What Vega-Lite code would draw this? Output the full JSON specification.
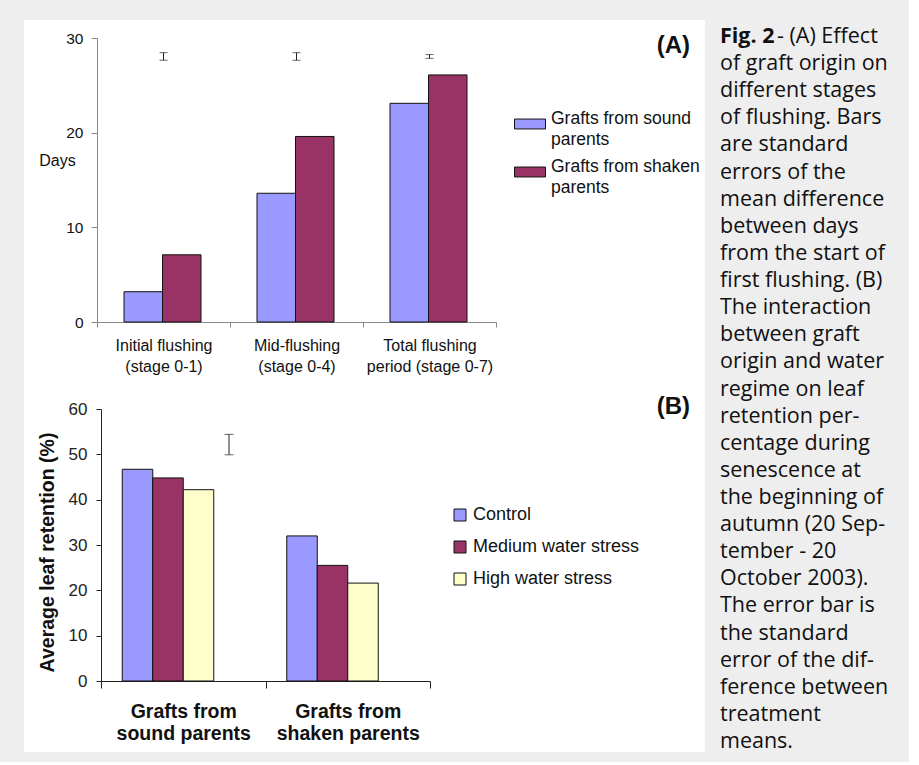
{
  "$schema": "https://vega.github.io/schema/vega-lite/v6.json",
  "background": "#eeeeee",
  "padding": {"left": 24, "top": 20, "right": 0, "bottom": 9},
  "spacing": 0,
  "config": {
    "view": {"stroke": null},
    "font": "Liberation Sans",
    "concat": {"spacing": 0},
    "style": {"guide-label": {"lineHeight": 21}}
  },
  "hconcat": [
    {
      "spacing": 0,
      "resolve": {"scale": {"color": "independent", "xOffset": "independent"}, "legend": {"color": "independent"}},
      "vconcat": [
        {
          "width": 681,
          "height": 368,
          "view": {"fill": "white", "stroke": null},
          "title": {"text": "(A)", "anchor": "end", "frame": "group", "offset": -50, "baseline": "middle", "dx": -15, "fontSize": 24, "fontWeight": "bold", "color": "#111111"},
          "layer": [
            {
              "data": {"values": [
                {"stage": "Initial flushing (stage 0-1)", "origin": "Grafts from sound parents", "days": 3.2},
                {"stage": "Initial flushing (stage 0-1)", "origin": "Grafts from shaken parents", "days": 7.1},
                {"stage": "Mid-flushing (stage 0-4)", "origin": "Grafts from sound parents", "days": 13.6},
                {"stage": "Mid-flushing (stage 0-4)", "origin": "Grafts from shaken parents", "days": 19.6},
                {"stage": "Total flushing period (stage 0-7)", "origin": "Grafts from sound parents", "days": 23.1},
                {"stage": "Total flushing period (stage 0-7)", "origin": "Grafts from shaken parents", "days": 26.1}
              ]},
              "mark": {"type": "bar", "stroke": "#111111", "strokeWidth": 1},
              "encoding": {
                "x": {
                  "field": "stage", "type": "nominal", "sort": null,
                  "scale": {"range": [73, 472], "paddingInner": 0, "paddingOuter": 0},
                  "axis": {
                    "title": null, "orient": "bottom", "offset": -66, "tickBand": "extent", "tickSize": 5,
                    "labelAngle": 0, "labelFontSize": 16, "labelPadding": 10, "labelLineHeight": 21,
                    "labelColor": "#111111", "domainColor": "#888888", "tickColor": "#888888",
                    "labelExpr": "!datum.label ? '' : datum.label == 'Total flushing period (stage 0-7)' ? ['Total flushing', 'period (stage 0-7)'] : split(replace(datum.label, ' (', '|('), '|')"
                  }
                },
                "xOffset": {
                  "field": "origin", "type": "nominal",
                  "scale": {"domain": ["Grafts from sound parents", "Grafts from shaken parents"], "range": [27, 104], "paddingOuter": 0, "paddingInner": 0}
                },
                "y": {
                  "field": "days", "type": "quantitative",
                  "scale": {"domain": [0, 30], "range": [302, 18], "nice": false, "zero": true},
                  "axis": {
                    "title": "Days", "titleAngle": 0, "titleX": -40, "titleY": 140, "titleAlign": "center", "titleBaseline": "middle",
                    "titleFontSize": 16, "titleFontWeight": "normal", "titleColor": "#111111",
                    "offset": -73, "values": [0, 10, 20, 30], "grid": false, "tickSize": 6, "labelPadding": 8,
                    "labelFontSize": 15.5, "labelColor": "#111111", "domainColor": "#888888", "tickColor": "#888888"
                  }
                },
                "color": {
                  "field": "origin", "type": "nominal",
                  "scale": {"domain": ["Grafts from sound parents", "Grafts from shaken parents"], "range": ["#9999FF", "#993366"]},
                  "legend": {
                    "orient": "none", "legendX": 490, "legendY": 88, "direction": "vertical", "title": null,
                    "symbolType": "M-1,-0.32H1V0.32H-1Z", "symbolSize": 961, "symbolStrokeColor": "#111111", "symbolStrokeWidth": 1,
                    "labelFontSize": 17.5, "labelColor": "#111111", "labelOffset": 5, "rowPadding": 7,
                    "labelBaseline": "alphabetic", "labelLimit": 300,
                    "labelExpr": "datum.label == 'Grafts from sound parents' ? ['Grafts from sound', 'parents'] : ['Grafts from shaken', 'parents']"
                  }
                }
              }
            },
            {
              "data": {"values": [
                {"stage": "Initial flushing (stage 0-1)", "lo": 27.65, "hi": 28.45},
                {"stage": "Mid-flushing (stage 0-4)", "lo": 27.65, "hi": 28.45},
                {"stage": "Total flushing period (stage 0-7)", "lo": 27.85, "hi": 28.25}
              ]},
              "layer": [
                {
                  "mark": {"type": "rule", "color": "#222222", "strokeWidth": 1},
                  "encoding": {
                    "x": {"field": "stage", "type": "nominal", "sort": null},
                    "y": {"field": "lo", "type": "quantitative"},
                    "y2": {"field": "hi"}
                  }
                },
                {
                  "mark": {"type": "tick", "color": "#222222", "thickness": 1, "size": 8, "orient": "horizontal"},
                  "encoding": {
                    "x": {"field": "stage", "type": "nominal", "sort": null},
                    "y": {"field": "lo", "type": "quantitative"}
                  }
                },
                {
                  "mark": {"type": "tick", "color": "#222222", "thickness": 1, "size": 8, "orient": "horizontal"},
                  "encoding": {
                    "x": {"field": "stage", "type": "nominal", "sort": null},
                    "y": {"field": "hi", "type": "quantitative"}
                  }
                }
              ]
            }
          ]
        },
        {
          "width": 681,
          "height": 364,
          "view": {"fill": "white", "stroke": null},
          "title": {"text": "(B)", "anchor": "end", "frame": "group", "offset": -43, "baseline": "middle", "dx": -15, "fontSize": 24, "fontWeight": "bold", "color": "#111111"},
          "layer": [
            {
              "data": {"values": [
                {"origin": "Grafts from sound parents", "regime": "Control", "retention": 46.7},
                {"origin": "Grafts from sound parents", "regime": "Medium water stress", "retention": 44.8},
                {"origin": "Grafts from sound parents", "regime": "High water stress", "retention": 42.2},
                {"origin": "Grafts from shaken parents", "regime": "Control", "retention": 32.0},
                {"origin": "Grafts from shaken parents", "regime": "Medium water stress", "retention": 25.5},
                {"origin": "Grafts from shaken parents", "regime": "High water stress", "retention": 21.6}
              ]},
              "mark": {"type": "bar", "stroke": "#111111", "strokeWidth": 1},
              "encoding": {
                "x": {
                  "field": "origin", "type": "nominal", "sort": null,
                  "scale": {"range": [77, 406], "paddingInner": 0, "paddingOuter": 0},
                  "axis": {
                    "title": null, "orient": "bottom", "offset": -71, "tickBand": "extent", "tickSize": 7,
                    "labelAngle": 0, "labelFontSize": 19.5, "labelFontWeight": "bold", "labelPadding": 14, "labelLineHeight": 22.5,
                    "labelColor": "#111111", "domainColor": "#222222", "tickColor": "#222222",
                    "labelExpr": "!datum.label ? '' : ['Grafts from', replace(datum.label, 'Grafts from ', '')]"
                  }
                },
                "xOffset": {
                  "field": "regime", "type": "nominal",
                  "scale": {"domain": ["Control", "Medium water stress", "High water stress", "SED"], "range": [21.25, 143.25], "paddingOuter": 0, "paddingInner": 0}
                },
                "y": {
                  "field": "retention", "type": "quantitative",
                  "scale": {"domain": [0, 60], "range": [293, 21], "nice": false},
                  "axis": {
                    "title": "Average leaf retention (%)", "titleX": -54, "titleY": 164, "titleAngle": -90, "titleAlign": "center", "titleBaseline": "middle",
                    "titleFontSize": 19.5, "titleFontWeight": "bold", "titleColor": "#111111",
                    "offset": -77, "values": [0, 10, 20, 30, 40, 50, 60], "grid": false, "tickSize": 5, "labelPadding": 9,
                    "labelFontSize": 17, "labelColor": "#222222", "domainColor": "#222222", "tickColor": "#222222"
                  }
                },
                "color": {
                  "field": "regime", "type": "nominal",
                  "scale": {"domain": ["Control", "Medium water stress", "High water stress"], "range": ["#9999FF", "#993366", "#FFFFCC"]},
                  "legend": {
                    "orient": "none", "legendX": 427, "legendY": 118, "direction": "vertical", "title": null,
                    "symbolType": "square", "symbolSize": 144, "symbolStrokeColor": "#111111", "symbolStrokeWidth": 1,
                    "labelFontSize": 18, "labelColor": "#111111", "labelOffset": 4, "rowPadding": 14, "labelLimit": 300
                  }
                }
              }
            },
            {
              "data": {"values": [
                {"origin": "Grafts from sound parents", "regime": "SED", "lo": 49.9, "hi": 54.4}
              ]},
              "layer": [
                {
                  "mark": {"type": "rule", "color": "#222222", "strokeWidth": 1},
                  "encoding": {
                    "x": {"field": "origin", "type": "nominal", "sort": null},
                    "xOffset": {"field": "regime", "type": "nominal"},
                    "y": {"field": "lo", "type": "quantitative"},
                    "y2": {"field": "hi"}
                  }
                },
                {
                  "mark": {"type": "tick", "color": "#222222", "thickness": 1, "size": 9, "orient": "horizontal"},
                  "encoding": {
                    "x": {"field": "origin", "type": "nominal", "sort": null},
                    "xOffset": {"field": "regime", "type": "nominal"},
                    "y": {"field": "lo", "type": "quantitative"}
                  }
                },
                {
                  "mark": {"type": "tick", "color": "#222222", "thickness": 1, "size": 9, "orient": "horizontal"},
                  "encoding": {
                    "x": {"field": "origin", "type": "nominal", "sort": null},
                    "xOffset": {"field": "regime", "type": "nominal"},
                    "y": {"field": "hi", "type": "quantitative"}
                  }
                }
              ]
            }
          ]
        }
      ]
    },
    {
      "width": 204,
      "height": 732,
      "data": {"values": [
        {"line": 1, "part": "bold", "text": "Fig. 2"},
        {"line": 1, "part": "lead", "text": "- (A) Effect"},
        {"line": 2, "part": "body", "text": "of graft origin on"},
        {"line": 3, "part": "body", "text": "different stages"},
        {"line": 4, "part": "body", "text": "of flushing. Bars"},
        {"line": 5, "part": "body", "text": "are standard"},
        {"line": 6, "part": "body", "text": "errors of the"},
        {"line": 7, "part": "body", "text": "mean difference"},
        {"line": 8, "part": "body", "text": "between days"},
        {"line": 9, "part": "body", "text": "from the start of"},
        {"line": 10, "part": "body", "text": "first flushing. (B)"},
        {"line": 11, "part": "body", "text": "The interaction"},
        {"line": 12, "part": "body", "text": "between graft"},
        {"line": 13, "part": "body", "text": "origin and water"},
        {"line": 14, "part": "body", "text": "regime on leaf"},
        {"line": 15, "part": "body", "text": "retention per-"},
        {"line": 16, "part": "body", "text": "centage during"},
        {"line": 17, "part": "body", "text": "senescence at"},
        {"line": 18, "part": "body", "text": "the beginning of"},
        {"line": 19, "part": "body", "text": "autumn (20 Sep-"},
        {"line": 20, "part": "body", "text": "tember - 20"},
        {"line": 21, "part": "body", "text": "October 2003)."},
        {"line": 22, "part": "body", "text": "The error bar is"},
        {"line": 23, "part": "body", "text": "the standard"},
        {"line": 24, "part": "body", "text": "error of the dif-"},
        {"line": 25, "part": "body", "text": "ference between"},
        {"line": 26, "part": "body", "text": "treatment"},
        {"line": 27, "part": "body", "text": "means."}
      ]},
      "encoding": {
        "y": {"field": "line", "type": "ordinal", "scale": {"type": "point", "range": [17, 722], "padding": 0}, "axis": null},
        "x": {"datum": 0, "type": "quantitative", "scale": {"domain": [0, 1], "range": [15, 219]}, "axis": null},
        "text": {"field": "text"}
      },
      "layer": [
        {
          "transform": [{"filter": "datum.part == 'body'"}],
          "mark": {"type": "text", "align": "left", "baseline": "middle", "font": "Open Sans", "fontSize": 21.5, "color": "#111111"}
        },
        {
          "transform": [{"filter": "datum.part == 'bold'"}],
          "mark": {"type": "text", "align": "left", "baseline": "middle", "font": "Open Sans", "fontSize": 21.5, "fontWeight": "bold", "color": "#111111"}
        },
        {
          "transform": [{"filter": "datum.part == 'lead'"}],
          "mark": {"type": "text", "align": "left", "baseline": "middle", "font": "Open Sans", "fontSize": 21.5, "dx": 57, "color": "#111111"}
        }
      ]
    }
  ]
}
